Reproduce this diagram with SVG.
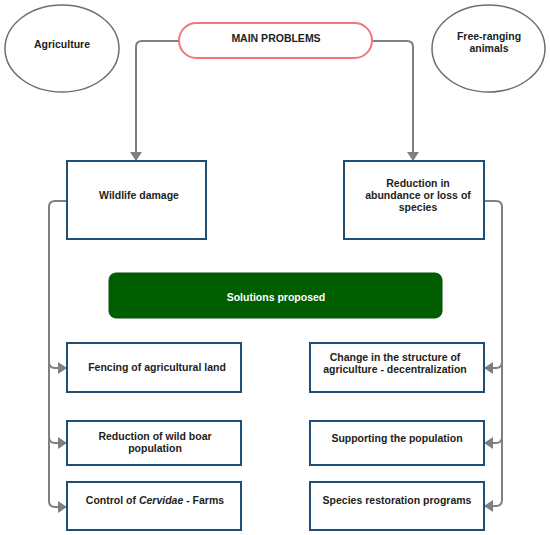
<svg xmlns="http://www.w3.org/2000/svg" width="550" height="535" viewBox="0 0 550 535">
<defs>
<marker id="ah" viewBox="0 0 9 12" refX="9" refY="6" markerWidth="9" markerHeight="12" markerUnits="userSpaceOnUse" orient="auto">
<path d="M0,0 L9,6 L0,12 z" fill="#7f7f7f"/>
</marker>
<style>
.t{font-family:"Liberation Sans",Arial,sans-serif;font-weight:bold;font-size:10.5px;fill:#1c231c;text-anchor:middle}
.w{fill:#ffffff}
.box{fill:#ffffff;stroke:#1f4e79;stroke-width:2}
.ell{fill:#ffffff;stroke:#6e6e6e;stroke-width:1.5}
.c{fill:none;stroke:#7f7f7f;stroke-width:2}
.a{marker-end:url(#ah)}
</style>
</defs>
<rect width="550" height="535" fill="#ffffff"/>
<g id="connectors">
<path class="c a" d="M179,41 H142 Q136,41 136,47 V161"/>
<path class="c a" d="M372,41 H407 Q413,41 413,47 V161"/>
<path class="c a" d="M67,201 H55 Q49,201 49,207 V501 Q49,507 55,507 H67"/>
<path class="c a" d="M49,362 Q49,368 55,368 H67"/>
<path class="c a" d="M49,437 Q49,443 55,443 H67"/>
<path class="c a" d="M484,201 H496 Q502,201 502,207 V500 Q502,506 496,506 H484"/>
<path class="c a" d="M502,362 Q502,368 496,368 H484"/>
<path class="c a" d="M502,437 Q502,443 496,443 H484"/>
</g>
<g id="agriculture">
<ellipse class="ell" cx="62" cy="48.5" rx="57" ry="43.5"/>
<text class="t" x="62" y="48">Agriculture</text>
</g>
<g id="main-problems">
<rect x="179" y="23" width="193" height="35" rx="17.5" fill="#ffffff" stroke="#f07878" stroke-width="2"/>
<text class="t" x="276" y="42">MAIN PROBLEMS</text>
</g>
<g id="free-ranging">
<ellipse class="ell" cx="488.5" cy="48.5" rx="56.5" ry="43.5"/>
<text class="t" x="489" y="40">Free-ranging</text>
<text class="t" x="489" y="52">animals</text>
</g>
<g id="wildlife-damage">
<rect class="box" x="67" y="161" width="139" height="78"/>
<text class="t" x="139" y="199">Wildlife damage</text>
</g>
<g id="reduction-species">
<rect class="box" x="344" y="161" width="140" height="78"/>
<text class="t" x="418" y="187">Reduction in</text>
<text class="t" x="418" y="199">abundance or loss of</text>
<text class="t" x="418" y="211">species</text>
</g>
<g id="solutions">
<rect x="109" y="273" width="333" height="45" rx="7" fill="#005e00" stroke="#0b4d0b" stroke-width="1"/>
<text class="t w" x="276" y="301">Solutions proposed</text>
</g>
<g id="fencing">
<rect class="box" x="67" y="343" width="174" height="49"/>
<text class="t" x="157" y="371">Fencing of agricultural land</text>
</g>
<g id="wild-boar">
<rect class="box" x="67" y="421" width="174" height="44"/>
<text class="t" x="155" y="440">Reduction of wild boar</text>
<text class="t" x="155" y="452">population</text>
</g>
<g id="cervidae">
<rect class="box" x="67" y="482" width="174" height="48"/>
<text class="t" x="155" y="504">Control of <tspan font-style="italic">Cervidae</tspan> - Farms</text>
</g>
<g id="decentralization">
<rect class="box" x="310" y="343" width="174" height="49"/>
<text class="t" x="395" y="361">Change in the structure of</text>
<text class="t" x="395" y="373">agriculture - decentralization</text>
</g>
<g id="supporting">
<rect class="box" x="310" y="421" width="174" height="44"/>
<text class="t" x="397" y="442">Supporting the population</text>
</g>
<g id="restoration">
<rect class="box" x="310" y="482" width="174" height="48"/>
<text class="t" x="397" y="504">Species restoration programs</text>
</g>
</svg>
